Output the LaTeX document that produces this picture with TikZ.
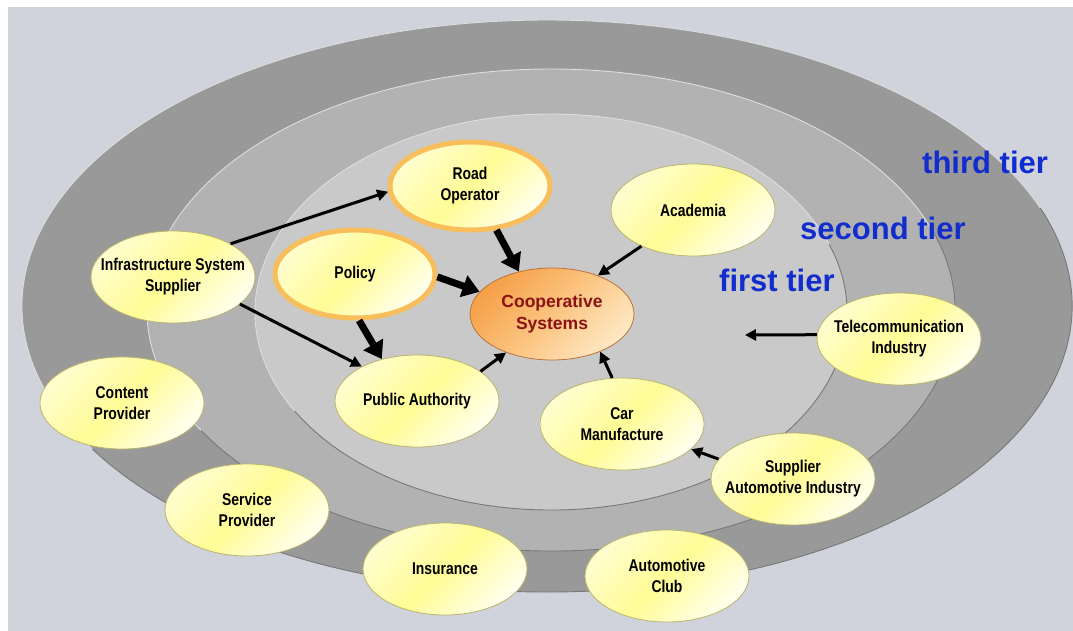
\documentclass[tikz,border=0pt]{standalone}
\usepackage{fontspec}
\setmainfont{Liberation Sans}
\newfontfamily\narrowsf{Liberation Sans}[FakeStretch=0.82]
\usetikzlibrary{shapes.geometric,arrows.meta}
\definecolor{bgblue}{RGB}{208,211,219}
\definecolor{ringthree}{RGB}{153,153,153}
\definecolor{ringtwo}{RGB}{178,178,178}
\definecolor{ringone}{RGB}{201,201,201}
\definecolor{ringlight}{RGB}{222,222,222}
\definecolor{ringdark}{RGB}{120,120,120}
\definecolor{tierblue}{RGB}{18,45,205}
\definecolor{paleyel}{RGB}{255,253,205}
\definecolor{midyel}{RGB}{255,252,150}
\definecolor{whiteyel}{RGB}{255,255,238}
\definecolor{yelline}{RGB}{185,180,110}
\definecolor{keyorange}{RGB}{248,190,92}
\definecolor{coreorange}{RGB}{246,160,72}
\definecolor{coremid}{RGB}{251,196,128}
\definecolor{corelight}{RGB}{255,232,196}
\definecolor{coreline}{RGB}{185,115,60}
\definecolor{corered}{RGB}{140,18,18}
\begin{document}
\begin{tikzpicture}[x=1pt, y=-1pt, line join=round, >={Triangle[length=11pt,width=11pt]},
	actor/.style={ellipse, minimum width=164pt, minimum height=92pt, inner xsep=-16pt, inner ysep=0pt, align=center,
		draw=yelline, line width=0.8pt, top color=paleyel, bottom color=whiteyel, middle color=midyel, shading angle=45,
		font=\narrowsf\bfseries\fontsize{17}{21}\selectfont},
	keyactor/.style={actor, draw=keyorange, line width=5pt, minimum width=160pt, minimum height=88pt},
	core/.style={actor, draw=coreline, top color=coreorange, bottom color=corelight, middle color=coremid, shading angle=45,
		text=corered, font=\bfseries\fontsize{17.5}{22}\selectfont},
	tier/.style={anchor=base west, inner sep=0pt, text=tierblue, font=\bfseries\fontsize{31}{36}\selectfont},
	link/.style={->, line width=3pt},
	biglink/.style={line width=7pt, -{Triangle[length=17pt,width=22pt]}}]
	\useasboundingbox (0,0) rectangle (1073,631);
	\fill[white] (0,0) rectangle (1073,631);
	\fill[bgblue] (8,7) rectangle (1073,631);
	\foreach \cx/\cy/\rx/\ry/\col in {547/306/525/286/ringthree, 551/310/404/241/ringtwo, 551/312/296/198/ringone}{
		\fill[\col] (\cx,\cy) ellipse [x radius=\rx, y radius=\ry];
		\draw[ringlight, line width=0.9pt] (\cx,\cy) ++(150:{\rx} and {\ry}) arc[start angle=150, end angle=340, x radius=\rx, y radius=\ry];
		\draw[ringdark, line width=0.9pt] (\cx,\cy) ++(340:{\rx} and {\ry}) arc[start angle=340, end angle=510, x radius=\rx, y radius=\ry];
	}
	\node[tier] (third) at (922,174) {third tier};
	\node[tier] (second) at (800,239) {second tier};
	\node[tier] (first) at (719,291) {first tier};
	\node[keyactor] (road) at (470,186) {Road\\Operator};
	\node[actor] (academia) at (693,210) {Academia};
	\node[actor] (infra) at (173,277) {Infrastructure System\\Supplier};
	\node[keyactor] (policy) at (355,274) {Policy};
	\node[core] (coop) at (552,314) {Cooperative\\Systems};
	\node[actor] (telecom) at (899,339) {Telecommunication\\Industry};
	\node[actor] (content) at (122,403) {Content\\Provider};
	\node[actor] (pubauth) at (417,401) {Public Authority};
	\node[actor] (car) at (622,424) {Car\\Manufacture};
	\node[actor] (supplier) at (793,479) {Supplier\\Automotive Industry};
	\node[actor] (service) at (247,510) {Service\\Provider};
	\node[actor] (insurance) at (445,569) {Insurance};
	\node[actor] (club) at (667,576) {Automotive\\Club};
	\coordinate (telend) at (745,335);
	\draw[link] (infra.30) -- (road.184);
	\draw[link] (infra.-22) -- (pubauth.148);
	\draw[biglink] (road.-59) -- (coop.128);
	\draw[biglink] (policy.-2) -- (coop.163);
	\draw[biglink] (policy.-85) -- (pubauth.130);
	\draw[link] (pubauth.25) -- (coop.220);
	\draw[link] (academia.215) -- (coop.40);
	\draw[link] (car.102) -- (coop.-38);
	\draw[link] (supplier.165) -- (car.-20);
	\draw[link] (telecom.177) -- (telend);
\end{tikzpicture}
\end{document}
